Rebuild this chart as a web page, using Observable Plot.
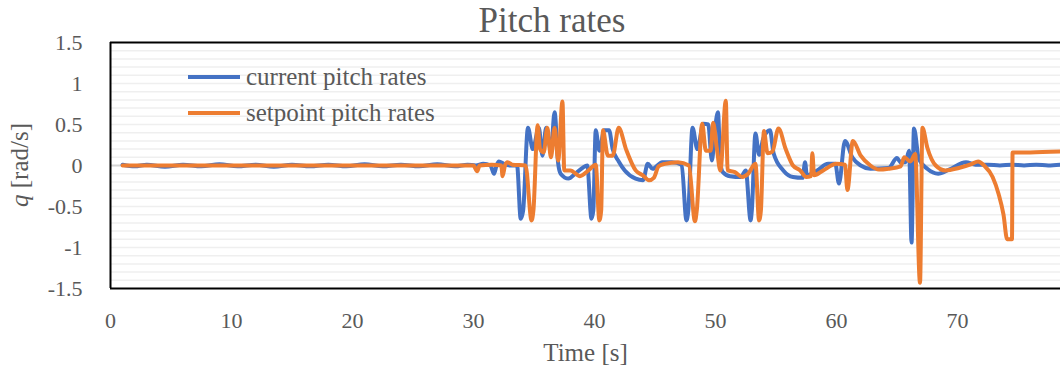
<!DOCTYPE html>
<html><head><meta charset="utf-8">
<script src="https://cdn.jsdelivr.net/npm/d3@7"></script>
<script src="https://cdn.jsdelivr.net/npm/@observablehq/plot@0.6"></script>
<style>
body{margin:0;background:#fff;}
#wrap{position:relative;width:1060px;height:370px;overflow:hidden;font-family:"Liberation Serif",serif;color:#595959;}
#chart{position:absolute;left:0;top:0;}
#title{position:absolute;left:552px;top:0;transform:translateX(-50%);font-size:35px;line-height:42px;white-space:nowrap;z-index:2;}
.leg{position:absolute;left:188px;height:30px;display:flex;align-items:center;font-size:25px;white-space:nowrap;z-index:2;}
.leg span.sw{display:inline-block;width:52px;height:4px;margin-right:6px;}
</style></head><body>
<div id="wrap"><div id="chart"></div><div id="title">Pitch rates</div></div>
<script>
const seriesNames = ["current pitch rates", "setpoint pitch rates"];
const seriesColors = ["#4472C4", "#ED7D31"];
const yTicks = [-1.5, -1, -0.5, 0, 0.5, 1, 1.5];
const xTicks = [0, 10, 20, 30, 40, 50, 60, 70];
const xLabel = "Time [s]";

const currentT = [1,2,3,4.5,6,7.5,9,10.5,12,13.5,
  15,16.5,18,19.5,21,22.5,24,25.5,27,28.5,
  29.5,30.2,30.8,31.4,31.7,31.9,32.1,32.5,33.0,33.6,
  33.9,34.1,34.5,34.9,35.4,35.7,36.0,36.4,36.7,37.0,
  37.2,37.85,38.4,39.0,39.4,39.75,39.9,40.1,40.4,40.8,
  41.2,41.5,42.0,42.5,43.4,44.0,44.4,44.8,45.6,46.4,
  47.2,47.6,47.75,48.1,48.5,49.0,49.4,49.7,49.95,50.2,
  50.4,50.6,51.2,52.1,52.5,52.9,53.0,53.3,53.6,53.95,
  54.5,54.8,55.6,56.4,57.2,57.4,57.55,58.4,59.3,59.9,
  60.2,60.7,61.3,62.0,62.8,64.3,65.0,65.3,65.7,66.0,
  66.2,66.4,66.8,67.5,68.4,69.3,70.7,71.5,72.5,73.5,
  74.5,75.5,76.5,77.5,78.5];
const currentQ = [0.01,-0.01,0.01,-0.015,0.01,-0.01,0.015,-0.01,0.01,-0.015,
  0.01,-0.01,0.01,-0.01,0.015,-0.01,0.01,-0.01,0.015,-0.01,
  0.01,0.0,0.02,0.0,-0.1,0.0,0.05,0.02,0.0,0.0,
  -0.65,-0.55,0.46,0.2,0.46,0.12,0.46,0.18,0.65,0.02,
  -0.1,-0.16,-0.1,-0.03,0.0,-0.65,-0.55,0.43,0.18,0.43,
  0.43,0.2,0.05,-0.06,-0.16,-0.18,0.02,-0.04,0.04,0.04,
  0.01,-0.67,-0.55,0.46,0.2,0.51,0.5,0.06,0.43,0.65,
  0.03,-0.08,-0.13,-0.14,-0.06,-0.67,-0.55,0.39,0.13,0.33,
  0.43,0.15,-0.06,-0.14,-0.15,0.04,-0.12,-0.06,0.02,0.02,
  -0.22,0.3,0.1,0.0,-0.04,-0.03,0.09,0.04,0.04,0.18,
  -0.94,0.45,0.08,-0.04,-0.1,-0.05,0.04,0.01,0.01,0.0,
  0.01,0.0,0.01,0.0,0.01];

const setpointT = [1,30.0,30.3,30.5,31.5,32.3,32.4,32.6,32.8,33.2,
  34.3,34.8,34.95,35.3,35.5,35.8,36.1,36.4,36.7,37.0,
  37.35,37.5,38.0,38.8,39.5,40.1,40.4,40.55,40.7,41.1,
  41.5,42.0,42.6,43.4,44.0,44.5,44.9,45.3,45.8,46.9,
  47.8,48.3,48.45,48.9,49.2,49.6,49.8,50.1,50.4,50.85,
  51.0,51.6,52.2,52.7,53.3,53.6,53.75,54.0,54.3,54.7,
  55.2,55.8,56.4,57.0,57.5,57.9,58.0,58.15,58.9,60.0,
  60.7,60.9,61.35,62.0,62.8,63.5,64.3,65.3,65.6,66.1,
  66.5,66.9,67.1,67.5,68.2,69.0,70.1,71.2,71.7,72.2,
  72.9,73.4,73.8,74.1,74.5,74.55,76.0,78.5];
const setpointQ = [0,0,-0.07,0,0.01,0.0,-0.13,0.0,0.04,0.01,
  0.0,-0.67,-0.55,0.49,0.2,0.16,0.46,0.1,0.46,0.06,
  0.78,-0.06,-0.06,-0.13,-0.06,0.01,-0.67,-0.55,0.43,0.12,
  0.12,0.46,0.2,-0.06,-0.12,-0.18,-0.15,-0.01,0.02,0.04,
  0.0,-0.68,-0.55,0.51,0.18,0.18,0.52,0.22,-0.06,0.79,
  -0.06,-0.08,-0.14,-0.1,0.02,-0.67,-0.55,0.42,0.15,0.17,
  0.45,0.2,0.0,-0.06,-0.14,-0.13,0.15,-0.12,-0.06,0.02,
  0.01,-0.3,0.3,0.12,0.0,-0.05,-0.04,-0.01,0.1,0.05,
  0.14,-1.43,0.46,0.22,0.0,-0.06,-0.03,0.02,0.05,0.0,
  -0.14,-0.35,-0.6,-0.9,-0.9,0.16,0.16,0.17];

const current = currentT.map((t, i) => ({t, q: currentQ[i]}));
const setpoint = setpointT.map((t, i) => ({t, q: setpointQ[i]}));
const gridY = d3.range(-14, 15).map(i => i / 10).filter(v => Math.abs(v) > 1e-9);

const chart = Plot.plot({
  width: 1060, height: 370,
  marginLeft: 110, marginRight: 0, marginTop: 42, marginBottom: 82,
  x: {domain: [0, 78.51]},
  y: {domain: [-1.5, 1.5]},
  style: {fontFamily: '"Liberation Serif", serif', fontSize: "22px", color: "#595959", background: "#fff"},
  marks: [
    Plot.ruleY(gridY, {stroke: "#efefef", strokeWidth: 1.5}),
    Plot.ruleY([0], {stroke: "#d4d4d4", strokeWidth: 2}),
    Plot.line(current, {x: "t", y: "q", stroke: seriesColors[0], strokeWidth: 4, curve: "monotone-x", strokeLinejoin: "round", strokeLinecap: "round"}),
    Plot.line(setpoint, {x: "t", y: "q", stroke: seriesColors[1], strokeWidth: 4, curve: "monotone-x", strokeLinejoin: "round", strokeLinecap: "round"}),
    Plot.ruleY([-1.5, 1.5], {stroke: "#000", strokeWidth: 2}),
    Plot.ruleX([0], {stroke: "#000", strokeWidth: 2}),
    Plot.axisY(yTicks, {tickSize: 0, tickPadding: 28, tickFormat: d => String(d), label: null, fontSize: 22}),
    Plot.axisX(xTicks, {tickSize: 0, tickPadding: 24, tickFormat: d => String(d), label: null, fontSize: 22}),
    Plot.text([xLabel], {frameAnchor: "bottom", dy: 72, fontSize: 25, fill: "#595959"})
  ]
});
document.getElementById("chart").appendChild(chart);

// y-axis label with italic q
const svg = d3.select(chart);
const yl = svg.append("text")
  .attr("transform", "translate(22,165) rotate(-90)")
  .attr("text-anchor", "middle").attr("dominant-baseline", "middle")
  .attr("fill", "#595959").attr("font-size", 25);
yl.append("tspan").attr("font-style", "italic").text("q");
yl.append("tspan").text(" [rad/s]");

// legend
const wrap = document.getElementById("wrap");
const legendY = [77, 113];
seriesNames.forEach((name, i) => {
  const d = document.createElement("div");
  d.className = "leg";
  d.style.top = (legendY[i] - 15) + "px";
  const sw = document.createElement("span");
  sw.className = "sw"; sw.style.background = seriesColors[i];
  d.appendChild(sw);
  d.appendChild(document.createTextNode(name));
  wrap.appendChild(d);
});
</script>
</body></html>
